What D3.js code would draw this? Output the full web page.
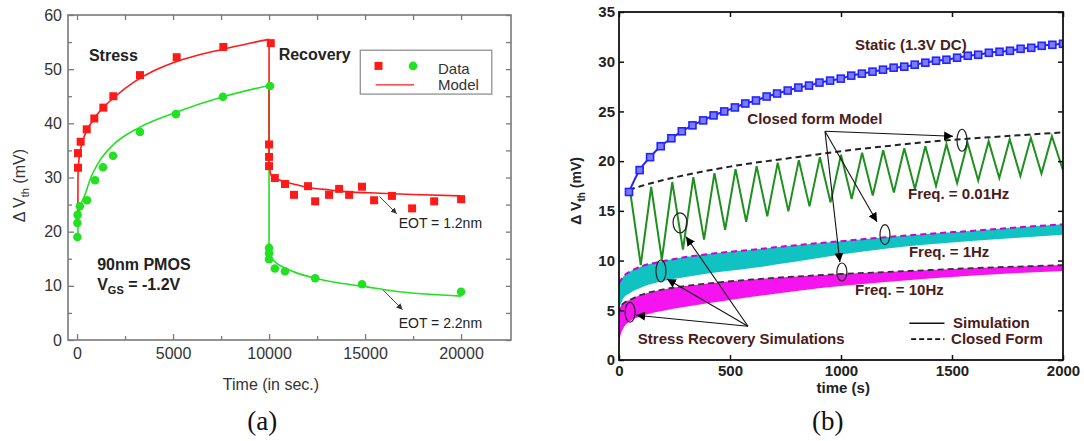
<!DOCTYPE html>
<html><head><meta charset="utf-8">
<script src="https://cdn.jsdelivr.net/npm/d3@7"></script>
<style>body{margin:0;background:#fff}</style>
</head><body>
<svg id="fig" width="1084" height="441"></svg>
<script>
// ================= Panel (a): stress / recovery of 90nm PMOS =================
const aTicksX = [0, 5000, 10000, 15000, 20000];
const aMinorX = [2500, 7500, 12500, 17500];
const aTicksY = [0, 10, 20, 30, 40, 50, 60];
const aMinorY = [5, 15, 25, 35, 45, 55];

// EOT = 1.2nm (red squares), measured
const redStressT = [50, 50, 190, 505, 900, 1370, 1890, 3280, 5190, 7620, 10090];
const redStressV = [31.8, 34.5, 36.6, 38.9, 40.9, 42.9, 45.0, 48.9, 52.2, 54.1, 54.8];
const redRecT = [10000, 10000, 10000, 10300, 10830, 11300, 12030, 12400, 13125, 13650, 14170, 14840, 15470, 16400, 17450, 18600, 20000];
const redRecV = [36.1, 33.8, 32.1, 29.9, 28.8, 26.8, 28.4, 25.6, 26.8, 27.9, 26.8, 28.3, 25.8, 26.6, 24.3, 25.6, 26.0];
// EOT = 2.2nm (green circles), measured
const grnStressT = [20, 20, 30, 150, 520, 940, 1350, 1875, 3280, 5150, 7600, 10050];
const grnStressV = [19.0, 21.6, 23.1, 24.7, 25.8, 29.5, 31.9, 34.0, 38.4, 41.7, 44.9, 46.9];
const grnRecT = [10000, 10000, 10000, 10300, 10830, 12400, 14840, 20000];
const grnRecV = [17.0, 16.0, 14.9, 13.2, 12.7, 11.4, 10.3, 8.9];

// model curves
const redModStressT = [40, 50, 80, 150, 300, 500, 1000, 2000, 3000, 4000, 5000, 6000, 7000, 8000, 9000, 10000];
const redModStressV = [21, 30, 32.5, 34.5, 36.8, 38.6, 41.4, 45.0, 47.7, 49.7, 51.2, 52.3, 53.2, 54.0, 54.8, 55.5];
const redModRecT = [10000, 10150, 10500, 10830, 11500, 12140, 13180, 14000, 15780, 17500, 20000];
const redModRecV = [32.0, 30.1, 29.6, 29.2, 28.6, 28.1, 27.7, 27.4, 27.1, 26.85, 26.6];
const grnModStressT = [40, 60, 150, 415, 700, 1200, 1875, 3280, 5200, 7600, 10000];
const grnModStressV = [19.0, 22.0, 24.2, 26.8, 29.8, 33.2, 36.0, 39.3, 42.1, 44.9, 47.0];
const grnModRecT = [10000, 10050, 10200, 10500, 10830, 11500, 12400, 13500, 14740, 16800, 20000];
const grnModRecV = [16.8, 15.6, 14.8, 13.9, 13.3, 12.3, 11.4, 10.6, 10.0, 8.9, 8.1];

// ================= Panel (b): AC stress simulations =================
const bTicksX = [0, 500, 1000, 1500, 2000];
const bTicksY = [0, 5, 10, 15, 20, 25, 30, 35];

// Static (1.3V DC)
const staticT = [45,93,140,188,236,283,331,379,426,474,522,569,617,665,712,760,808,856,903,951,999,1046,1094,1142,1189,1237,1285,1332,1380,1428,1475,1523,1571,1618,1666,1714,1761,1809,1857,1904,1952,2000];
const staticV = [16.9,19.1,20.4,21.5,22.3,23.0,23.6,24.1,24.6,25.0,25.4,25.8,26.1,26.5,26.8,27.1,27.4,27.6,27.9,28.1,28.3,28.6,28.8,29.0,29.2,29.4,29.5,29.7,29.9,30.1,30.2,30.4,30.6,30.7,30.9,31.0,31.1,31.3,31.4,31.6,31.7,31.8];

// Freq. = 0.01Hz simulation: peaks (end of stress) and valleys (end of recovery)
const zigPeakT = [50,145,240,335,430,525,620,715,810,905,1000,1095,1190,1285,1380,1475,1570,1665,1760,1855,1950];
const zigPeakV = [17.0,17.4,17.9,18.4,18.8,19.2,19.5,19.85,20.1,20.4,20.65,20.85,21.1,21.3,21.5,21.7,21.85,22.0,22.2,22.35,22.5];
const zigValleyT = [98,193,288,383,478,573,668,763,858,953,1048,1143,1238,1333,1428,1523,1618,1713,1808,1903,2000];
const zigValleyV = [9.55,10.1,11.1,12.1,13.1,13.9,14.45,14.95,15.45,15.85,16.2,16.55,16.85,17.2,17.5,17.8,18.05,18.3,18.5,18.75,19.1];
// 0.01Hz closed form
const cf001T = [45, 100, 200, 300, 400, 500, 600, 700, 800, 900, 1000, 1200, 1400, 1600, 1800, 2000];
const cf001V = [17.1, 17.5, 18.1, 18.6, 19.05, 19.45, 19.8, 20.1, 20.4, 20.7, 21.0, 21.5, 21.95, 22.3, 22.6, 22.9];

// Freq. = 1Hz envelope (upper edge = closed form)
const f1T = [0, 5, 20, 50, 100, 200, 300, 400, 600, 800, 1000, 1200, 1400, 1600, 1800, 2000];
const f1Top = [7.7, 7.9, 8.4, 8.9, 9.4, 9.95, 10.35, 10.65, 11.1, 11.55, 11.95, 12.35, 12.7, 13.0, 13.35, 13.65];
const f1Bot = [5.3, 5.5, 6.2, 6.75, 7.3, 7.95, 8.35, 8.7, 9.25, 9.9, 10.6, 11.2, 11.65, 12.0, 12.3, 12.6];
// Freq. = 10Hz envelope (upper edge = closed form)
const f10T = [0, 2, 5, 20, 50, 100, 200, 300, 400, 600, 800, 1000, 1200, 1400, 1600, 1800, 2000];
const f10Top = [4.6, 5.0, 5.3, 5.7, 6.05, 6.55, 7.1, 7.45, 7.7, 8.1, 8.4, 8.65, 8.85, 9.05, 9.25, 9.4, 9.55];
const f10Bot = [0, 1.6, 2.3, 3.2, 3.9, 4.4, 4.95, 5.35, 5.7, 6.35, 6.95, 7.45, 7.85, 8.2, 8.5, 8.75, 8.95];

// ----------------------------------------------------------------------------
const zip = (T, V) => T.map((t, i) => [t, V[i]]);
const svg = d3.select("#fig");
const SANS = "'Liberation Sans', Arial, Helvetica, sans-serif";
const SERIF = "'Liberation Serif', 'Times New Roman', serif";
const intFmt = d3.format("d");

const defs = svg.append("defs");
function arrowMarker(id, color, size) {
  defs.append("marker").attr("id", id).attr("viewBox", "0 0 10 10")
    .attr("refX", 10).attr("refY", 5).attr("markerWidth", size).attr("markerHeight", size)
    .attr("markerUnits", "userSpaceOnUse").attr("orient", "auto")
    .append("path").attr("d", "M0,0 L10,5 L0,10 z").attr("fill", color);
}
arrowMarker("ahB", "#000", 9);
arrowMarker("ahA", "#333", 6);

function styleAxis(g, color, width) {
  g.select(".domain").remove();
  g.selectAll(".tick line").attr("stroke", color).attr("stroke-width", width);
}

// ======================= Panel (a) =======================
const xa = d3.scaleLinear().domain([-470, 22600]).range([68, 511]);
const ya = d3.scaleLinear().domain([0, 60]).range([340, 15]);
const gA = svg.append("g");
const aCol = "#7a7a7a";

function axesA() {
  const ax = [
    [d3.axisBottom(xa).tickValues(aTicksX).tickSize(-6).tickPadding(8).tickFormat(intFmt), ya(0)],
    [d3.axisBottom(xa).tickValues(aMinorX).tickSize(-4).tickFormat(""), ya(0)],
    [d3.axisTop(xa).tickValues(aTicksX.concat(aMinorX)).tickSize(-5).tickFormat(""), ya(60)],
  ];
  ax.forEach(([a, y]) => {
    const g = gA.append("g").attr("transform", `translate(0,${y})`).call(a);
    styleAxis(g, aCol, 1.3);
    g.selectAll("text").attr("font-family", SANS).attr("font-size", 16).attr("fill", "#333");
  });
  const ay = [
    [d3.axisLeft(ya).tickValues(aTicksY).tickSize(-6).tickPadding(6).tickFormat(intFmt), xa.range()[0]],
    [d3.axisLeft(ya).tickValues(aMinorY).tickSize(-4).tickFormat(""), xa.range()[0]],
    [d3.axisRight(ya).tickValues(aTicksY.concat(aMinorY)).tickSize(-5).tickFormat(""), xa.range()[1]],
  ];
  ay.forEach(([a, x]) => {
    const g = gA.append("g").attr("transform", `translate(${x},0)`).call(a);
    styleAxis(g, aCol, 1.3);
    g.selectAll("text").attr("font-family", SANS).attr("font-size", 16).attr("fill", "#333");
  });
  gA.append("rect").attr("x", xa.range()[0]).attr("y", ya.range()[1])
    .attr("width", xa.range()[1] - xa.range()[0]).attr("height", ya.range()[0] - ya.range()[1])
    .attr("fill", "none").attr("stroke", aCol).attr("stroke-width", 1.6);
}

const lineA = d3.line().x(d => xa(d[0])).y(d => ya(d[1])).curve(d3.curveMonotoneX);
const segA = d3.line().x(d => xa(d[0])).y(d => ya(d[1]));
function modelA(stressT, stressV, recT, recV, color) {
  const s = zip(stressT, stressV), r = zip(recT, recV);
  const g = gA.append("g").attr("fill", "none").attr("stroke", color).attr("stroke-width", 1.6);
  g.append("path").attr("d", lineA(s));
  g.append("path").attr("d", segA([s[s.length - 1], r[0]]));
  g.append("path").attr("d", lineA(r));
}
const RED = "#ff1a1a", GRN = "#22e022";
modelA(grnModStressT, grnModStressV, grnModRecT, grnModRecV, GRN);
modelA(redModStressT, redModStressV, redModRecT, redModRecV, RED);

function squares(T, V, color, s) {
  gA.append("g").selectAll("rect").data(zip(T, V)).join("rect")
    .attr("x", d => xa(d[0]) - s / 2).attr("y", d => ya(d[1]) - s / 2)
    .attr("width", s).attr("height", s).attr("fill", color);
}
function circles(T, V, color, r) {
  gA.append("g").selectAll("circle").data(zip(T, V)).join("circle")
    .attr("cx", d => xa(d[0])).attr("cy", d => ya(d[1])).attr("r", r).attr("fill", color);
}
circles(grnStressT, grnStressV, GRN, 4.3);
circles(grnRecT, grnRecV, GRN, 4.3);
squares(redStressT, redStressV, RED, 8);
squares(redRecT, redRecV, RED, 8);
axesA();

// legend (a)
const legA = gA.append("g");
legA.append("rect").attr("x", xa(14750)).attr("y", ya(53.5)).attr("width", xa(21600) - xa(14750))
  .attr("height", ya(45.4) - ya(53.5)).attr("fill", "#fff").attr("stroke", "#888").attr("stroke-width", 1.2);
legA.append("rect").attr("x", xa(15700) - 4).attr("y", ya(50.6) - 4).attr("width", 8).attr("height", 8).attr("fill", RED);
legA.append("circle").attr("cx", xa(17500)).attr("cy", ya(50.6)).attr("r", 4.3).attr("fill", GRN);
legA.append("line").attr("x1", xa(15550)).attr("x2", xa(17550)).attr("y1", ya(47.1)).attr("y2", ya(47.1))
  .attr("stroke", RED).attr("stroke-width", 1.4);
legA.append("text").attr("x", xa(18800)).attr("y", ya(49.2)).text("Data");
legA.append("text").attr("x", xa(18800)).attr("y", ya(45.7) - 2).text("Model");
legA.selectAll("text").attr("font-family", SANS).attr("font-size", 15).attr("fill", "#333");

// annotations (a)
const annA = gA.append("g").attr("font-family", SANS).attr("fill", "#222");
annA.append("text").attr("x", xa(620)).attr("y", ya(51.5)).attr("font-weight", "bold").attr("font-size", 16).text("Stress");
annA.append("text").attr("x", xa(10500)).attr("y", ya(51.7)).attr("font-weight", "bold").attr("font-size", 16).text("Recovery");
annA.append("text").attr("x", xa(1050)).attr("y", ya(12.9)).attr("font-weight", "bold").attr("font-size", 16).text("90nm PMOS");
const vgs = annA.append("text").attr("x", xa(1050)).attr("y", ya(9.2)).attr("font-weight", "bold").attr("font-size", 16);
vgs.append("tspan").text("V");
vgs.append("tspan").attr("font-size", 11).attr("dy", 4).text("GS");
vgs.append("tspan").attr("dy", -4).text(" = -1.2V");
annA.append("text").attr("x", xa(16750)).attr("y", ya(20.6)).attr("font-size", 14).text("EOT = 1.2nm");
annA.append("text").attr("x", xa(16750)).attr("y", ya(2.2)).attr("font-size", 14).text("EOT = 2.2nm");
gA.append("line").attr("x1", xa(15750)).attr("y1", ya(26.5)).attr("x2", xa(16650)).attr("y2", ya(23.3))
  .attr("stroke", "#444").attr("stroke-width", 1).attr("marker-end", "url(#ahA)");
gA.append("line").attr("x1", xa(15950)).attr("y1", ya(9.2)).attr("x2", xa(16950)).attr("y2", ya(5.6))
  .attr("stroke", "#444").attr("stroke-width", 1).attr("marker-end", "url(#ahA)");

// axis titles (a)
const ylabA = gA.append("text").attr("transform", `translate(25,${ya(28.5)}) rotate(-90)`)
  .attr("text-anchor", "middle").attr("font-family", SANS).attr("font-size", 16).attr("fill", "#333");
ylabA.append("tspan").text("\u0394 V");
ylabA.append("tspan").attr("font-size", 11).attr("dy", 4).text("th");
ylabA.append("tspan").attr("dy", -4).text(" (mV)");
gA.append("text").attr("x", xa(10100)).attr("y", 390).attr("text-anchor", "middle")
  .attr("font-family", SANS).attr("font-size", 16).attr("fill", "#333").text("Time (in sec.)");
gA.append("text").attr("x", xa(9650)).attr("y", 430).attr("text-anchor", "middle")
  .attr("font-family", SERIF).attr("font-size", 27).attr("fill", "#111").text("(a)");

// ======================= Panel (b) =======================
const xb = d3.scaleLinear().domain([0, 2000]).range([619, 1063]);
const yb = d3.scaleLinear().domain([0, 35]).range([360, 12]);
const gB = svg.append("g");
defs.append("clipPath").attr("id", "clipB").append("rect")
  .attr("x", xb.range()[0]).attr("y", yb.range()[1])
  .attr("width", xb.range()[1] - xb.range()[0]).attr("height", yb.range()[0] - yb.range()[1]);
const plotB = gB.append("g").attr("clip-path", "url(#clipB)");

const lineB = d3.line().x(d => xb(d[0])).y(d => yb(d[1])).curve(d3.curveMonotoneX);
const polyB = d3.line().x(d => xb(d[0])).y(d => yb(d[1]));
const areaB = d3.area().x(d => xb(d[0])).y0(d => yb(d[2])).y1(d => yb(d[1])).curve(d3.curveMonotoneX);

// 0.01Hz zigzag
const zig = zip(zigPeakT, zigPeakV).concat(zip(zigValleyT, zigValleyV)).sort((a, b) => a[0] - b[0]);
plotB.append("path").attr("d", polyB(zig)).attr("fill", "none").attr("stroke", "#1f8f1f").attr("stroke-width", 2);

// bands
const CYAN = "#10c2c2", MAG = "#f514f0";
plotB.append("path").attr("d", areaB(f1T.map((t, i) => [t, f1Top[i], f1Bot[i]]))).attr("fill", CYAN);
plotB.append("path").attr("d", areaB(f10T.map((t, i) => [t, f10Top[i], f10Bot[i]]))).attr("fill", MAG);
// closed forms
plotB.append("path").attr("d", lineB(zip(f1T, f1Top))).attr("fill", "none").attr("stroke", "#d000d0")
  .attr("stroke-width", 2).attr("stroke-dasharray", "6,4");
plotB.append("path").attr("d", lineB(zip(f10T, f10Top))).attr("fill", "none").attr("stroke", "#333")
  .attr("stroke-width", 1.8).attr("stroke-dasharray", "6,4");
plotB.append("path").attr("d", lineB(zip(cf001T, cf001V))).attr("fill", "none").attr("stroke", "#222")
  .attr("stroke-width", 2).attr("stroke-dasharray", "6,4");

// static curve
const BLUE = "#2323ff";
plotB.append("path").attr("d", lineB(zip(staticT, staticV))).attr("fill", "none").attr("stroke", BLUE).attr("stroke-width", 2);
plotB.append("g").selectAll("rect").data(zip(staticT, staticV)).join("rect")
  .attr("x", d => xb(d[0]) - 3.5).attr("y", d => yb(d[1]) - 3.5).attr("width", 7).attr("height", 7)
  .attr("fill", "#7c7cff").attr("stroke", BLUE).attr("stroke-width", 1.6);

// axes (b)
function axesB() {
  const specs = [
    [d3.axisBottom(xb).tickValues(bTicksX).tickSize(-5).tickPadding(5).tickFormat(intFmt), `translate(0,${yb(0)})`],
    [d3.axisTop(xb).tickValues(bTicksX).tickSize(-5).tickFormat(""), `translate(0,${yb(35)})`],
    [d3.axisLeft(yb).tickValues(bTicksY).tickSize(-5).tickPadding(4).tickFormat(intFmt), `translate(${xb(0)},0)`],
    [d3.axisRight(yb).tickValues(bTicksY).tickSize(-5).tickFormat(""), `translate(${xb(2000)},0)`],
  ];
  specs.forEach(([a, tr]) => {
    const g = gB.append("g").attr("transform", tr).call(a);
    styleAxis(g, "#111", 1.5);
    g.selectAll("text").attr("font-family", SANS).attr("font-size", 15).attr("font-weight", "bold").attr("fill", "#222");
  });
  gB.append("rect").attr("x", xb.range()[0]).attr("y", yb.range()[1])
    .attr("width", xb.range()[1] - xb.range()[0]).attr("height", yb.range()[0] - yb.range()[1])
    .attr("fill", "none").attr("stroke", "#111").attr("stroke-width", 1.8);
}
axesB();

// annotations (b)
const LBL = "#4a1c1c";
const annB = gB.append("g").attr("font-family", SANS).attr("font-weight", "bold").attr("font-size", 15).attr("fill", LBL);
const put = (t, v, s) => annB.append("text").attr("x", xb(t)).attr("y", yb(v)).text(s);
put(1063, 31.2, "Static (1.3V DC)");
put(578, 23.7, "Closed form Model");
put(1302, 16.2, "Freq. = 0.01Hz");
put(1306, 10.35, "Freq. = 1Hz");
put(1063, 6.55, "Freq. = 10Hz");
put(85, 1.65, "Stress Recovery Simulations");
put(1505, 3.25, "Simulation");
put(1496, 1.65, "Closed Form");
gB.append("line").attr("x1", xb(1308)).attr("x2", xb(1466)).attr("y1", yb(3.7)).attr("y2", yb(3.7))
  .attr("stroke", "#111").attr("stroke-width", 1.6);
gB.append("line").attr("x1", xb(1316)).attr("x2", xb(1466)).attr("y1", yb(2.1)).attr("y2", yb(2.1))
  .attr("stroke", "#111").attr("stroke-width", 1.6).attr("stroke-dasharray", "5,3");

// callout ellipses
const ellipses = [[1545, 22.1, 5, 11], [1198, 12.6, 5, 10], [1004, 8.85, 5, 9], [275, 13.8, 7, 10], [189, 8.95, 5, 11], [50, 4.8, 5, 10]];
gB.append("g").selectAll("ellipse").data(ellipses).join("ellipse")
  .attr("cx", d => xb(d[0])).attr("cy", d => yb(d[1])).attr("rx", d => d[2]).attr("ry", d => d[3])
  .attr("fill", "none").attr("stroke", "#222").attr("stroke-width", 1.2);

// callout arrows
const arrows = [
  [928, 23.0, 1505, 22.5], [928, 23.0, 1162, 13.9], [928, 23.0, 995, 9.85],
  [581, 3.4, 302, 12.4], [581, 3.4, 216, 8.15], [581, 3.4, 77, 4.5],
];
gB.append("g").selectAll("line").data(arrows).join("line")
  .attr("x1", d => xb(d[0])).attr("y1", d => yb(d[1])).attr("x2", d => xb(d[2])).attr("y2", d => yb(d[3]))
  .attr("stroke", "#111").attr("stroke-width", 1.1).attr("marker-end", "url(#ahB)");

// axis titles (b)
const ylabB = gB.append("text").attr("transform", `translate(581,${yb(17)}) rotate(-90)`)
  .attr("text-anchor", "middle").attr("font-family", SANS).attr("font-size", 14).attr("font-weight", "bold").attr("fill", "#222");
ylabB.append("tspan").text("\u0394 V");
ylabB.append("tspan").attr("font-size", 10).attr("dy", 4).text("th");
ylabB.append("tspan").attr("dy", -4).text(" (mV)");
gB.append("text").attr("x", xb(1010)).attr("y", 393).attr("text-anchor", "middle")
  .attr("font-family", SANS).attr("font-size", 15).attr("font-weight", "bold").attr("fill", "#222").text("time (s)");
gB.append("text").attr("x", xb(940)).attr("y", 430).attr("text-anchor", "middle")
  .attr("font-family", SERIF).attr("font-size", 27).attr("fill", "#111").text("(b)");
</script>
</body></html>
